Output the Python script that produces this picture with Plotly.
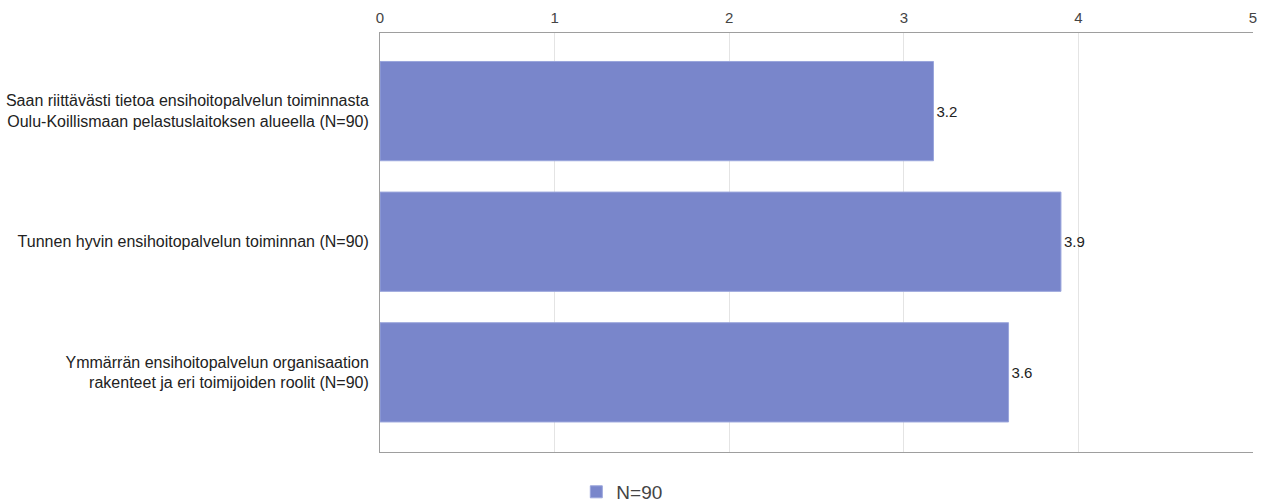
import plotly.graph_objects as go

categories = [
    "Saan riittävästi tietoa ensihoitopalvelun toiminnasta<br>Oulu-Koillismaan pelastuslaitoksen alueella (N=90)",
    "Tunnen hyvin ensihoitopalvelun toiminnan (N=90)",
    "Ymmärrän ensihoitopalvelun organisaation<br>rakenteet ja eri toimijoiden roolit (N=90)",
]
values = [3.17, 3.9, 3.6]
series_name = "N=90"
x_ticks = [0, 1, 2, 3, 4, 5]

fig = go.Figure()
fig.add_trace(go.Bar(
    x=values, y=categories, orientation="h", name=series_name,
    marker=dict(color="#7986CB", line=dict(color="#9aa5dc", width=1)),
    texttemplate="%{x:.1f}", textposition="outside",
    textfont=dict(family="Liberation Sans, Arial", size=15, color="#222222"),
    cliponaxis=False,
))

fig.update_layout(
    width=1269, height=502,
    margin=dict(l=380, r=16, t=33, b=50),
    paper_bgcolor="white", plot_bgcolor="white",
    font=dict(family="Liberation Sans, Arial", size=15, color="#222222"),
    bargap=0.24,
    showlegend=True,
    legend=dict(orientation="h", xref="container", yref="container",
                x=0.49, xanchor="center", y=0.02, yanchor="middle",
                font=dict(size=19, color="#444444"), itemwidth=30),
)
fig.update_xaxes(
    side="top", range=[0, 5], tickvals=x_ticks,
    showgrid=True, gridcolor="#e4e4e4", gridwidth=1,
    showline=True, linecolor="#9e9e9e", mirror=True, linewidth=1,
    zeroline=False, tickfont=dict(size=15, color="#444444"),
    ticks="", ticklabelstandoff=3, automargin=False,
)
fig.update_yaxes(
    range=[2.61, -0.598], showline=True, linecolor="#9e9e9e", linewidth=1,
    showgrid=False, ticks="", ticklabelstandoff=7, automargin=False,
    tickfont=dict(size=16, color="#222222"),
)

fig.write_html("out.html")
